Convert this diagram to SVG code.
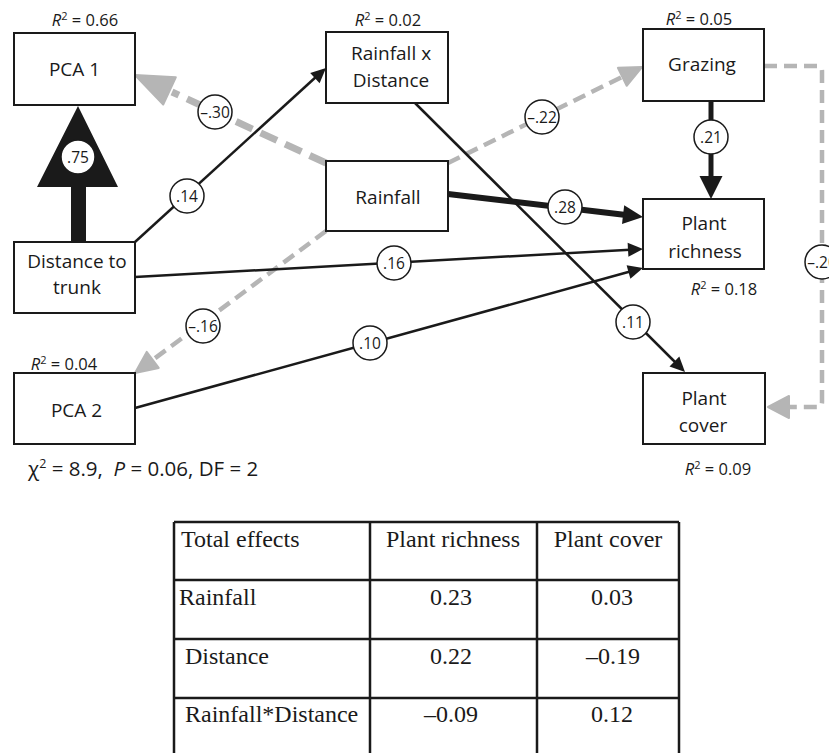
<svg xmlns="http://www.w3.org/2000/svg" width="829" height="753" viewBox="0 0 829 753">
<style>
.box{fill:#fff;stroke:#1a1a1a;stroke-width:2}
text{font-family:"Open Sans","Liberation Sans",sans-serif;fill:#1a1a1a}
.lbl{font-size:19px;text-anchor:middle}
.r2{font-size:16.5px;text-anchor:middle}
.sup{font-size:11px}
.c{fill:#fff;stroke:#1a1a1a;stroke-width:1.5}
.ct{font-size:15.5px;text-anchor:middle}
.blk{stroke:#1a1a1a;stroke-width:2.5;fill:none}
.bhead{fill:#1a1a1a;stroke:none}
.gry{stroke:#b5b5b5;stroke-width:4.5;stroke-dasharray:13 7;fill:none}
.ghead{fill:#b5b5b5;stroke:#b5b5b5;stroke-width:2;stroke-linejoin:round}
.tl{stroke:#1a1a1a;stroke-width:2.5;fill:none}
.tt{font-family:"Liberation Serif","Times New Roman",serif;font-size:24px}
.tm{text-anchor:middle}
</style>
<g id="connectors">
  <!-- Distance to trunk -> PCA 1 (big arrow) -->
  <polygon class="bhead" points="71,243 86,243 86,187 118,187 78,106 37,187 71,187"/>
  <!-- Rainfall -> PCA 1 (gray thick dashed) -->
  <line x1="326" y1="163" x2="172" y2="92" stroke="#b5b5b5" stroke-width="7" stroke-dasharray="18 9"/>
  <polygon class="ghead" points="135,75 175.8,77.3 163.2,104.5"/>
  <!-- Rainfall -> Grazing -->
  <line class="gry" x1="448" y1="163" x2="624" y2="76"/>
  <polygon class="ghead" points="642,67 626.7,85.8 617.9,67.8"/>
  <!-- Rainfall -> PCA 2 -->
  <line class="gry" x1="326" y1="231" x2="154" y2="359"/>
  <polygon class="ghead" points="135,373 158.7,367.9 146.7,351.9"/>
  <!-- Grazing -> Plant cover -->
  <path class="gry" d="M764,66 H817 Q822,66 822,71 V402 Q822,407 817,407 H787"/>
  <polygon class="ghead" points="768,407 789,396 789,418"/>
  <!-- Distance to trunk -> Rainfall x Distance -->
  <line class="blk" x1="135" y1="242" x2="317" y2="76"/>
  <polygon class="bhead" points="326,68 319.6,83.3 310.2,72.9"/>
  <!-- Distance to trunk -> Plant richness -->
  <line class="blk" x1="135" y1="277" x2="630" y2="249.7"/>
  <polygon class="bhead" points="643,249 628.4,256.8 627.6,242.8"/>
  <!-- PCA 2 -> Plant richness -->
  <line class="blk" x1="135" y1="408" x2="631" y2="271.3"/>
  <polygon class="bhead" points="643,268 630.4,278.7 626.6,265.3"/>
  <!-- Rainfall x Distance -> Plant cover -->
  <line class="blk" x1="415" y1="103" x2="676" y2="363"/>
  <polygon class="bhead" points="685,372 669.5,366.4 679.3,356.4"/>
  <!-- Rainfall -> Plant richness (thick) -->
  <line x1="448" y1="194" x2="626" y2="215" stroke="#1a1a1a" stroke-width="6"/>
  <polygon class="bhead" points="643,217 622,224.1 624.2,205.3"/>
  <!-- Grazing -> Plant richness (thick) -->
  <line x1="711" y1="101" x2="711" y2="178" stroke="#1a1a1a" stroke-width="5"/>
  <polygon class="bhead" points="711,199 699.5,176 722.5,176"/>
</g>
<g id="coefficients">
  <circle class="c" cx="78" cy="157" r="17"/><text class="ct" x="78" y="162.5">.75</text>
  <circle class="c" cx="215" cy="112" r="17"/><text class="ct" x="215" y="117.5">–.30</text>
  <circle class="c" cx="187" cy="196" r="17"/><text class="ct" x="187" y="201.5">.14</text>
  <circle class="c" cx="542" cy="117" r="17"/><text class="ct" x="542" y="122.5">–.22</text>
  <circle class="c" cx="565" cy="207" r="17"/><text class="ct" x="565" y="212.5">.28</text>
  <circle class="c" cx="394" cy="263" r="17"/><text class="ct" x="394" y="268.5">.16</text>
  <circle class="c" cx="203" cy="326" r="17"/><text class="ct" x="203" y="331.5">–.16</text>
  <circle class="c" cx="370" cy="343" r="17"/><text class="ct" x="370" y="348.5">.10</text>
  <circle class="c" cx="633" cy="322" r="17"/><text class="ct" x="633" y="327.5">.11</text>
  <circle class="c" cx="711" cy="137" r="17"/><text class="ct" x="711" y="142.5">.21</text>
  <circle class="c" cx="822" cy="262" r="17"/><text class="ct" x="822" y="267.5">–.20</text>
</g>
<g id="pca1">
  <rect class="box" x="14" y="33" width="121" height="72"/>
  <text class="lbl" x="74.5" y="76">PCA 1</text>
  <text class="r2" x="85" y="26"><tspan font-style="italic">R</tspan><tspan class="sup" dy="-6">2</tspan><tspan dy="6"> = 0.66</tspan></text>
</g>
<g id="distance">
  <rect class="box" x="14" y="242" width="121" height="71"/>
  <text class="lbl" x="77" y="268">Distance to</text>
  <text class="lbl" x="77" y="294">trunk</text>
</g>
<g id="rainfallxdistance">
  <rect class="box" x="326" y="32" width="122" height="71"/>
  <text class="lbl" x="391" y="60">Rainfall x</text>
  <text class="lbl" x="391" y="87">Distance</text>
  <text class="r2" x="388" y="26"><tspan font-style="italic">R</tspan><tspan class="sup" dy="-6">2</tspan><tspan dy="6"> = 0.02</tspan></text>
</g>
<g id="rainfall">
  <rect class="box" x="326" y="161" width="122" height="70"/>
  <text class="lbl" x="388" y="204">Rainfall</text>
</g>
<g id="grazing">
  <rect class="box" x="643" y="29" width="121" height="72"/>
  <text class="lbl" x="702" y="71">Grazing</text>
  <text class="r2" x="699" y="25"><tspan font-style="italic">R</tspan><tspan class="sup" dy="-6">2</tspan><tspan dy="6"> = 0.05</tspan></text>
</g>
<g id="richness">
  <rect class="box" x="643" y="199" width="121" height="70"/>
  <text class="lbl" x="704" y="230">Plant</text>
  <text class="lbl" x="705" y="258">richness</text>
  <text class="r2" x="724" y="295"><tspan font-style="italic">R</tspan><tspan class="sup" dy="-6">2</tspan><tspan dy="6"> = 0.18</tspan></text>
</g>
<g id="pca2">
  <rect class="box" x="14" y="373" width="121" height="71"/>
  <text class="lbl" x="76.5" y="417">PCA 2</text>
  <text class="r2" x="64" y="370"><tspan font-style="italic">R</tspan><tspan class="sup" dy="-6">2</tspan><tspan dy="6"> = 0.04</tspan></text>
</g>
<g id="cover">
  <rect class="box" x="643" y="373" width="122" height="71"/>
  <text class="lbl" x="704" y="405">Plant</text>
  <text class="lbl" x="703" y="432">cover</text>
  <text class="r2" x="718" y="475"><tspan font-style="italic">R</tspan><tspan class="sup" dy="-6">2</tspan><tspan dy="6"> = 0.09</tspan></text>
</g>
<text x="28" y="476" font-size="20.5">χ<tspan font-size="12.5" dy="-8">2</tspan><tspan dy="8"> = 8.9,&#160; </tspan><tspan font-style="italic">P</tspan> = 0.06, DF = 2</text>
<g id="table">
  <path class="tl" d="M174,522 H679 M174,580 H679 M174,639 H679 M174,698 H679 M174,522 V753 M370,522 V753 M537,522 V753 M679,522 V753"/>
  <text class="tt" x="181" y="547">Total effects</text>
  <text class="tt tm" x="453" y="547">Plant richness</text>
  <text class="tt tm" x="608" y="547">Plant cover</text>
  <text class="tt" x="179" y="605">Rainfall</text>
  <text class="tt tm" x="451" y="605">0.23</text>
  <text class="tt tm" x="612" y="605">0.03</text>
  <text class="tt" x="185" y="664">Distance</text>
  <text class="tt tm" x="451" y="664">0.22</text>
  <text class="tt tm" x="613" y="664">–0.19</text>
  <text class="tt" x="185" y="722">Rainfall*Distance</text>
  <text class="tt tm" x="451" y="722">–0.09</text>
  <text class="tt tm" x="612" y="722">0.12</text>
</g>
</svg>
